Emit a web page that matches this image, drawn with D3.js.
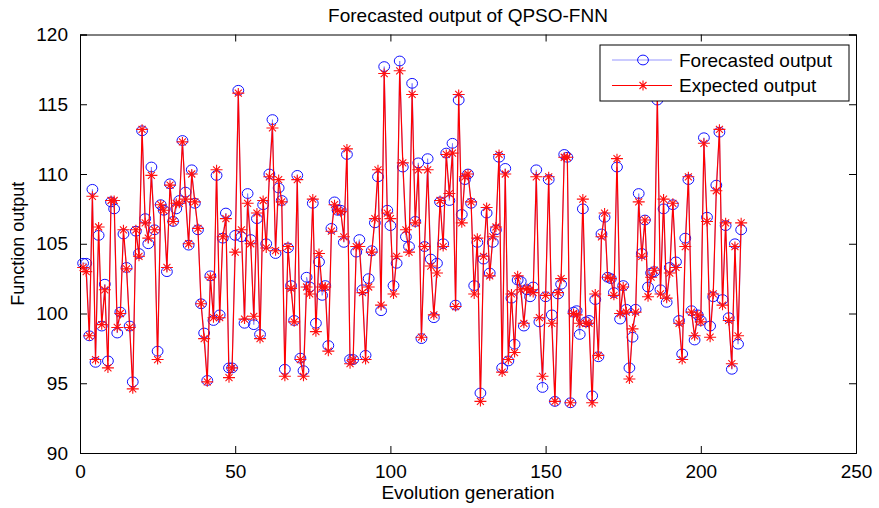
<!DOCTYPE html>
<html>
<head>
<meta charset="utf-8">
<script src="https://cdn.jsdelivr.net/npm/d3@7"></script>
<style>
    body { margin: 0; background: #fff; }
    text { font-family: "Liberation Sans", Arial, sans-serif; fill: #000; }
</style>
</head>
<body>
<div id="chart"></div>
<script>
// Values, one per evolution generation.
const forecasted = [
    103.6, 103.6, 98.4, 108.9, 96.5, 105.6, 99.1, 102.1, 96.6, 108.0,
    107.5, 98.6, 100.1, 105.7, 103.3, 99.1, 95.1, 105.9, 104.3, 113.1,
    106.8, 105.0, 110.5, 106.0, 97.3, 107.8, 107.4, 103.0, 109.3, 106.6,
    107.5, 108.1, 112.4, 108.7, 104.9, 110.3, 107.9, 106.0, 100.7, 98.6,
    95.2, 102.7, 99.5, 109.9, 99.9, 105.4, 107.2, 96.1, 96.1, 105.6,
    116.0, 105.5, 99.3, 108.6, 105.3, 99.2, 106.8, 98.5, 107.8, 105.0,
    110.0, 113.9, 104.3, 109.0, 108.1, 96.0, 104.7, 102.0, 99.5, 109.9,
    96.8, 95.9, 102.6, 101.9, 107.9, 99.3, 103.7, 101.3, 102.0, 97.7,
    106.1, 108.0, 107.4, 107.4, 105.1, 111.4, 96.7, 96.7, 104.4, 105.3,
    101.7, 97.0, 102.5, 104.5, 106.5, 109.8, 100.2, 117.7, 107.4, 106.3,
    102.0, 103.6, 118.1, 110.5, 105.5, 104.8, 116.5, 106.6, 110.8, 98.2,
    104.8, 111.1, 103.9, 99.7, 103.6, 108.0, 105.0, 111.5, 108.1, 112.2,
    100.6, 115.3, 107.1, 109.6, 110.0, 107.9, 102.0, 105.1, 94.3, 103.9,
    107.2, 102.9, 105.1, 106.0, 111.2, 96.1, 110.4, 96.6, 101.1, 97.8,
    102.4, 102.3, 99.1, 101.7, 101.2, 101.9, 110.3, 99.4, 94.7, 101.2,
    109.6, 99.9, 93.7, 101.4, 102.1, 111.4, 111.2, 93.6, 100.1, 100.2,
    98.5, 107.5, 99.4, 99.5, 94.1, 101.0, 96.9, 105.7, 106.9, 102.6,
    102.5, 101.5, 110.5, 99.6, 102.0, 100.3, 96.1, 98.3, 100.3, 108.6,
    104.3, 106.7, 101.9, 102.9, 103.0, 115.3, 101.7, 107.5, 100.8, 103.3,
    107.8, 103.7, 99.5, 97.1, 105.4, 109.6, 100.2, 98.1, 99.9, 99.5,
    112.6, 106.9, 99.1, 101.2, 109.2, 113.0, 101.0, 106.3, 99.7, 96.0,
    105.0, 97.8, 106.0
]

const expected = [
    103.3, 103.0, 98.4, 108.4, 96.7, 106.2, 99.2, 101.7, 96.1, 108.1,
    108.1, 99.0, 100.0, 106.0, 103.2, 99.0, 94.6, 106.0, 104.1, 113.2,
    106.5, 105.4, 109.9, 106.0, 96.7, 107.8, 107.4, 103.3, 109.2, 106.6,
    107.9, 107.9, 112.3, 108.2, 105.0, 110.0, 108.0, 106.1, 100.7, 98.2,
    95.1, 102.6, 99.7, 110.3, 99.7, 105.5, 106.8, 95.4, 96.1, 104.4,
    115.8, 106.0, 99.6, 107.9, 105.0, 99.8, 107.2, 98.2, 108.1, 104.7,
    109.8, 113.3, 104.5, 109.6, 108.0, 95.5, 104.8, 101.8, 99.4, 109.6,
    96.7, 95.5, 101.9, 101.4, 108.2, 98.7, 104.3, 101.9, 101.9, 97.3,
    105.9, 107.8, 107.4, 107.3, 105.5, 111.8, 96.4, 96.7, 104.8, 104.8,
    101.5, 96.7, 101.9, 104.4, 106.8, 110.3, 100.6, 117.2, 107.2, 106.8,
    101.4, 104.1, 117.4, 110.8, 106.0, 104.4, 115.7, 106.5, 110.3, 98.3,
    104.8, 110.3, 103.4, 99.9, 102.9, 108.1, 104.8, 111.4, 108.6, 111.5,
    100.5, 115.7, 106.5, 109.8, 110.0, 108.0, 101.4, 105.4, 93.7, 104.1,
    107.6, 102.7, 105.5, 106.2, 111.4, 95.8, 110.0, 96.7, 101.4, 97.2,
    102.7, 101.7, 99.3, 101.8, 101.7, 101.5, 109.8, 99.7, 95.5, 101.3,
    109.8, 99.3, 93.7, 101.5, 102.5, 111.2, 111.2, 93.6, 100.0, 99.9,
    99.3, 108.2, 99.3, 99.3, 93.6, 101.4, 97.0, 105.5, 107.2, 102.6,
    102.5, 101.3, 111.1, 100.0, 101.9, 100.1, 95.3, 98.9, 100.1, 108.0,
    104.1, 106.7, 101.2, 102.6, 103.1, 115.6, 101.4, 108.2, 101.1, 102.9,
    107.9, 103.3, 99.3, 96.7, 104.8, 109.8, 100.1, 98.4, 99.9, 99.4,
    112.2, 106.6, 98.3, 101.4, 108.8, 113.2, 100.6, 106.5, 99.5, 96.4,
    104.8, 98.4, 106.5
]

const xTicks = [0, 50, 100, 150, 200, 250]
const yTicks = [90, 95, 100, 105, 110, 115, 120]
const seriesNames = ["Forecasted output", "Expected output"]

const width = 879
const height = 508
const margin = {top: 34.5, right: 23, bottom: 55, left: 80}

function drawStar(sel, size) {
    const d = size * 0.7
    sel.append("path")
        .attr("d", `M${-size - 1},0H${size + 1}M0,${-size}V${size}` +
            `M${-d},${-d}L${d},${d}M${-d},${d}L${d},${-d}`)
        .attr("fill", "none")
        .attr("stroke", "#ff1010")
        .attr("stroke-width", 1.1)
}

function generateChart() {
    let svg = d3.select("#chart")
        .append("svg")
            .attr("width", width)
            .attr("height", height)

    const x = d3.scaleLinear()
        .domain([0, 250])
        .range([margin.left, width - margin.right])
    const y = d3.scaleLinear()
        .domain([90, 120])
        .range([height - margin.bottom, margin.top])

    const gens = forecasted.map((d, i) => i + 1)

    // Axes with inward ticks on all four sides (MATLAB box style)
    svg.append("g")
        .attr("transform", `translate(0,${y(90)})`)
        .call(d3.axisBottom(x).tickValues(xTicks).tickSize(-7).tickPadding(12))
    svg.append("g")
        .attr("transform", `translate(0,${y(120)})`)
        .call(d3.axisTop(x).tickValues(xTicks).tickSize(-7).tickFormat(""))
    svg.append("g")
        .attr("transform", `translate(${x(0)},0)`)
        .call(d3.axisLeft(y).tickValues(yTicks).tickSize(-7).tickPadding(12))
    svg.append("g")
        .attr("transform", `translate(${x(250)},0)`)
        .call(d3.axisRight(y).tickValues(yTicks).tickSize(-7).tickFormat(""))

    svg.selectAll(".tick text")
        .style("font-size", "19px")
        .style("font-family", '"Liberation Sans", Arial, sans-serif')
    svg.selectAll(".domain, .tick line")
        .attr("stroke", "#000")

    const plot = svg.append("g")

    // Forecasted: thin blue line with circles
    const line = d3.line()
        .x((d, i) => x(gens[i]))
        .y(d => y(d))
    plot.append("path")
        .datum(forecasted)
        .attr("d", line)
        .attr("fill", "none")
        .attr("stroke", "#6a6aff")
        .attr("stroke-width", 0.7)
    plot.selectAll("ellipse.f")
        .data(forecasted)
        .enter()
        .append("ellipse")
            .attr("class", "f")
            .attr("cx", (d, i) => x(gens[i]))
            .attr("cy", d => y(d))
            .attr("rx", 5.4)
            .attr("ry", 4.9)
            .attr("fill", "none")
            .attr("stroke", "#1010ff")
            .attr("stroke-width", 1)

    // Expected: red line with stars
    plot.append("path")
        .datum(expected)
        .attr("d", line)
        .attr("fill", "none")
        .attr("stroke", "#ff0000")
        .attr("stroke-width", 1.2)
    plot.selectAll("g.e")
        .data(expected)
        .enter()
        .append("g")
            .attr("class", "e")
            .attr("transform", (d, i) => `translate(${x(gens[i])},${y(d)})`)
            .call(sel => drawStar(sel, 5))

    // Titles
    svg.append("text")
        .attr("x", (x(0) + x(250)) / 2)
        .attr("y", 22)
        .attr("text-anchor", "middle")
        .style("font-size", "19px")
        .text("Forecasted output of QPSO-FNN")
    svg.append("text")
        .attr("x", (x(0) + x(250)) / 2)
        .attr("y", 499)
        .attr("text-anchor", "middle")
        .style("font-size", "19px")
        .text("Evolution generation")
    svg.append("text")
        .attr("transform", `translate(24,${y(105)}) rotate(-90)`)
        .attr("text-anchor", "middle")
        .style("font-size", "18px")
        .text("Function output")

    // Legend
    let legend = svg.append("g")
    legend.append("rect")
        .attr("x", 600)
        .attr("y", 45)
        .attr("width", 249)
        .attr("height", 56)
        .attr("fill", "#fff")
        .attr("stroke", "#000")
    seriesNames.forEach((name, i) => {
        const ly = 60 + i * 25.5
        legend.append("line")
            .attr("x1", 612).attr("x2", 672)
            .attr("y1", ly).attr("y2", ly)
            .attr("stroke", i === 0 ? "#6a6aff" : "#ff0000")
            .attr("stroke-width", i === 0 ? 0.7 : 1.2)
        if (i === 0) {
            legend.append("ellipse")
                .attr("cx", 643).attr("cy", ly).attr("rx", 5.4).attr("ry", 4.9)
                .attr("fill", "none").attr("stroke", "#1010ff")
        } else {
            legend.append("g")
                .attr("transform", `translate(643,${ly})`)
                .call(sel => drawStar(sel, 5))
        }
        legend.append("text")
            .attr("x", 679)
            .attr("y", ly + 6.5)
            .style("font-size", "19px")
            .text(name)
    })
}

window.onload = function() {
    generateChart()
}
</script>
</body>
</html>
